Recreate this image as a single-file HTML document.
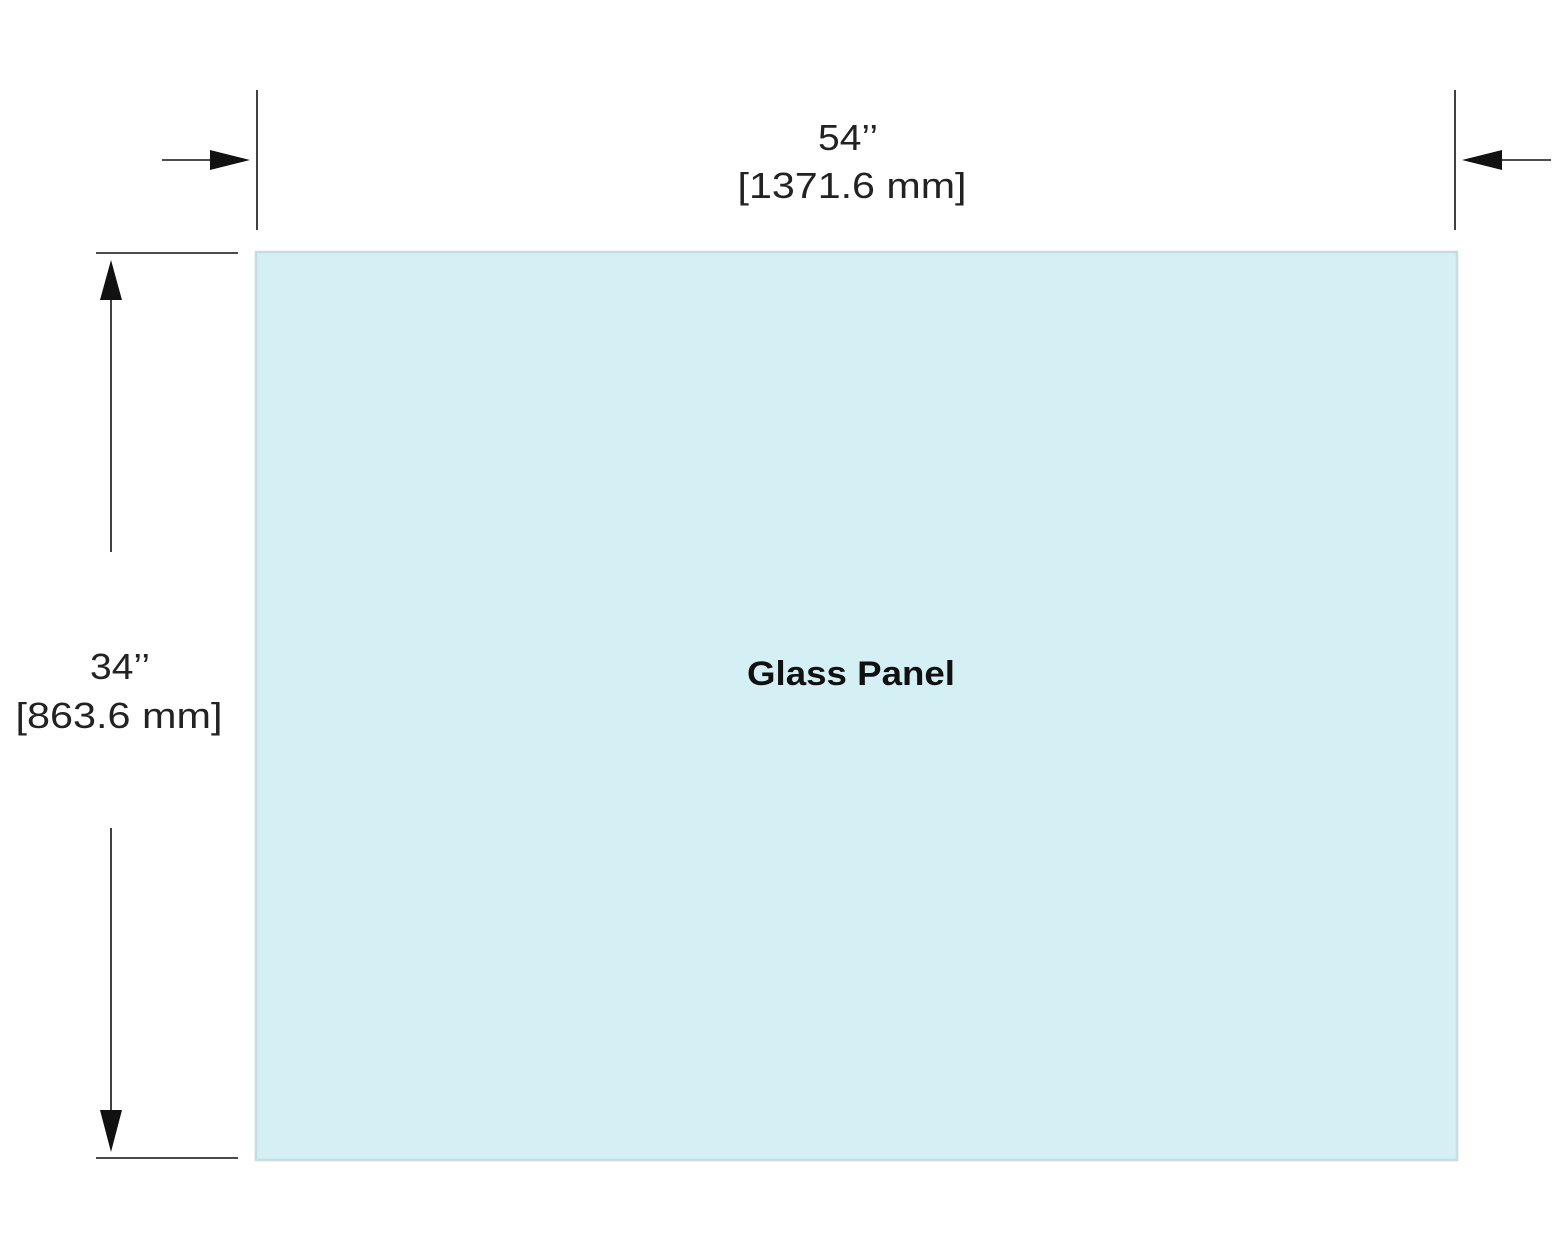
<!DOCTYPE html>
<html><head><meta charset="utf-8"><style>
html,body{margin:0;padding:0;background:#fff;}
svg{display:block;}
</style></head><body>
<svg width="1563" height="1251" viewBox="0 0 1563 1251" xmlns="http://www.w3.org/2000/svg">
<rect x="256" y="252" width="1201" height="908" fill="#d5f0f5" stroke="#c6dcdf" stroke-width="2.5"/>
<g stroke="#111" stroke-width="1.6" fill="none">
<line x1="257" y1="90" x2="257" y2="230"/>
<line x1="1455" y1="90" x2="1455" y2="230"/>
<line x1="162" y1="160" x2="212" y2="160"/>
<line x1="1500" y1="160" x2="1551" y2="160"/>
<line x1="96" y1="253" x2="238" y2="253"/>
<line x1="96" y1="1158" x2="238" y2="1158"/>
<line x1="111" y1="298" x2="111" y2="552"/>
<line x1="111" y1="828" x2="111" y2="1112"/>
</g>
<g fill="#111">
<polygon points="250,160 210,150 210,170"/>
<polygon points="1462,160 1502,150 1502,170"/>
<polygon points="111,260 100,300 122,300"/>
<polygon points="111,1152 100,1110 122,1110"/>
</g>
<g font-family="Liberation Sans, sans-serif" font-size="36" fill="#222" text-anchor="middle">
<text x="848" y="150" textLength="60" lengthAdjust="spacingAndGlyphs">54’’</text>
<text x="852" y="198" textLength="229" lengthAdjust="spacingAndGlyphs">[1371.6 mm]</text>
<text x="120" y="679" textLength="60" lengthAdjust="spacingAndGlyphs">34’’</text>
<text x="119" y="728" textLength="207" lengthAdjust="spacingAndGlyphs">[863.6 mm]</text>
</g>
<text x="851" y="685" font-family="Liberation Sans, sans-serif" font-size="34" font-weight="bold" fill="#111" text-anchor="middle" textLength="208" lengthAdjust="spacingAndGlyphs">Glass Panel</text>
</svg>
</body></html>
